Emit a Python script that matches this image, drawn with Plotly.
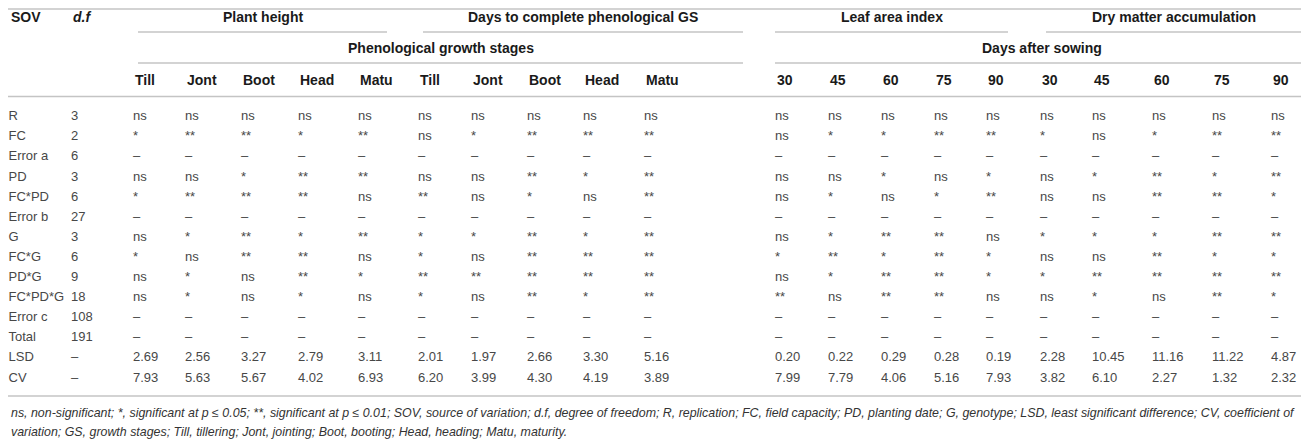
import plotly.graph_objects as go

# table content
sov = ["R", "FC", "Error a", "PD", "FC*PD", "Error b", "G", "FC*G", "PD*G",
       "FC*PD*G", "Error c", "Total", "LSD", "CV"]
dof = ["3", "2", "6", "3", "6", "27", "3", "6", "9", "18", "108", "191", "–", "–"]

stages = ["Till", "Jont", "Boot", "Head", "Matu"]
das = ["30", "45", "60", "75", "90"]

D = "–"
plant_height = [
    ["ns", "ns", "ns", "ns", "ns"],
    ["*", "**", "**", "*", "**"],
    [D, D, D, D, D],
    ["ns", "ns", "*", "**", "**"],
    ["*", "**", "**", "**", "ns"],
    [D, D, D, D, D],
    ["ns", "*", "**", "*", "**"],
    ["*", "ns", "**", "**", "ns"],
    ["ns", "*", "ns", "**", "*"],
    ["ns", "*", "ns", "*", "ns"],
    [D, D, D, D, D],
    [D, D, D, D, D],
    ["2.69", "2.56", "3.27", "2.79", "3.11"],
    ["7.93", "5.63", "5.67", "4.02", "6.93"],
]
days_gs = [
    ["ns", "ns", "ns", "ns", "ns"],
    ["ns", "*", "**", "**", "**"],
    [D, D, D, D, D],
    ["ns", "ns", "**", "*", "**"],
    ["**", "ns", "*", "ns", "**"],
    [D, D, D, D, D],
    ["*", "*", "**", "*", "**"],
    ["*", "ns", "**", "**", "**"],
    ["**", "**", "**", "**", "**"],
    ["*", "ns", "**", "*", "**"],
    [D, D, D, D, D],
    [D, D, D, D, D],
    ["2.01", "1.97", "2.66", "3.30", "5.16"],
    ["6.20", "3.99", "4.30", "4.19", "3.89"],
]
leaf_area = [
    ["ns", "ns", "ns", "ns", "ns"],
    ["ns", "*", "*", "**", "**"],
    [D, D, D, D, D],
    ["ns", "ns", "*", "ns", "*"],
    ["ns", "*", "ns", "*", "**"],
    [D, D, D, D, D],
    ["ns", "*", "**", "**", "ns"],
    ["*", "**", "*", "**", "*"],
    ["ns", "*", "**", "**", "*"],
    ["**", "ns", "**", "**", "ns"],
    [D, D, D, D, D],
    [D, D, D, D, D],
    ["0.20", "0.22", "0.29", "0.28", "0.19"],
    ["7.99", "7.79", "4.06", "5.16", "7.93"],
]
dry_matter = [
    ["ns", "ns", "ns", "ns", "ns"],
    ["*", "ns", "*", "**", "**"],
    [D, D, D, D, D],
    ["ns", "*", "**", "*", "**"],
    ["ns", "ns", "**", "**", "*"],
    [D, D, D, D, D],
    ["*", "*", "*", "**", "**"],
    ["ns", "ns", "**", "*", "*"],
    ["*", "**", "**", "**", "**"],
    ["ns", "*", "ns", "**", "*"],
    [D, D, D, D, D],
    [D, D, D, D, D],
    ["2.28", "10.45", "11.16", "11.22", "4.87"],
    ["3.82", "6.10", "2.27", "1.32", "2.32"],
]

footnote = [
    "ns, non-significant; *, significant at p ≤ 0.05; **, significant at p ≤ 0.01; SOV, source of variation; "
    "d.f, degree of freedom; R, replication; FC, field capacity; PD, planting date; G, genotype; "
    "LSD, least significant difference; CV, coefficient of",
    "variation; GS, growth stages; Till, tillering; Jont, jointing; Boot, booting; Head, heading; Matu, maturity.",
]

# layout (pixels); the page body has an 8px margin, so shift the axes by it
W, H = 1309, 443
OFF = 8
col_x = [133, 185, 241, 298, 358, 418, 471, 527, 583, 644,
         775, 828, 881, 934, 986, 1040, 1092, 1152, 1212, 1271]
sov_x, dof_x = 8.5, 71
row_y0, row_dy = 117, 20.1
row_y = [row_y0 + i * row_dy for i in range(len(sov))]

BODY = dict(family="Liberation Sans", size=13, color="#474747")
HEAD = dict(family="Liberation Sans", size=14, color="#1a1a1a")
RULE = "#c4c4c4"

fig = go.Figure()

def text_col(x, vals):
    fig.add_trace(go.Scatter(x=[x] * len(vals), y=row_y, text=vals, mode="text",
                             textposition="middle right", textfont=BODY,
                             cliponaxis=False, hoverinfo="skip", showlegend=False))

text_col(sov_x, sov)
text_col(dof_x, dof)
groups = [plant_height, days_gs, leaf_area, dry_matter]
for g, grp in enumerate(groups):
    for j in range(5):
        text_col(col_x[g * 5 + j], [r[j] for r in grp])

# header texts
ann = []
def head(x, y, t, anchor="left", font=HEAD):
    ann.append(dict(x=x, y=y, text=t, showarrow=False, xanchor=anchor,
                    yanchor="middle", font=font, xref="x", yref="y"))

head(sov_x, 17, "<b>SOV</b>")
head(dof_x, 17, "<b><i>d.f</i></b>")
spans1 = [("Plant height", 138, 387), ("Days to complete phenological GS", 423, 743),
          ("Leaf area index", 775, 1008), ("Dry matter accumulation", 1046, 1302)]
for t, a, b in spans1:
    head((a + b) / 2, 17, "<b>%s</b>" % t, anchor="center")
spans2 = [("Phenological growth stages", 138, 743), ("Days after sowing", 775, 1309)]
for t, a, b in spans2:
    head((a + b) / 2, 48, "<b>%s</b>" % t, anchor="center")
for i, lab in enumerate(stages * 2 + das * 2):
    head(col_x[i], 80, "<b>%s</b>" % lab)

foot_font = dict(family="Liberation Sans", size=12.4, color="#333333")
head(sov_x, 413, "<i>%s</i>" % footnote[0], font=foot_font)
head(sov_x, 432, "<i>%s</i>" % footnote[1], font=foot_font)

# rules
shapes = []
def rule(x0, x1, y, w=1.6):
    shapes.append(dict(type="line", x0=x0, x1=x1, y0=y, y1=y, xref="x", yref="y",
                       line=dict(color=RULE, width=w)))

rule(OFF, W, 9)
for t, a, b in spans1:
    rule(a, b, 32)
for t, a, b in spans2:
    rule(a, b, 63)
rule(OFF, W, 96.5)
rule(OFF, W, 396)

fig.update_layout(
    width=W, height=H,
    margin=dict(l=0, r=0, t=0, b=0),
    paper_bgcolor="white", plot_bgcolor="white",
    xaxis=dict(range=[OFF, W + OFF], visible=False, fixedrange=True),
    yaxis=dict(range=[H + OFF, OFF], visible=False, fixedrange=True),
    annotations=ann, shapes=shapes,
)

fig.write_html("out.html")
